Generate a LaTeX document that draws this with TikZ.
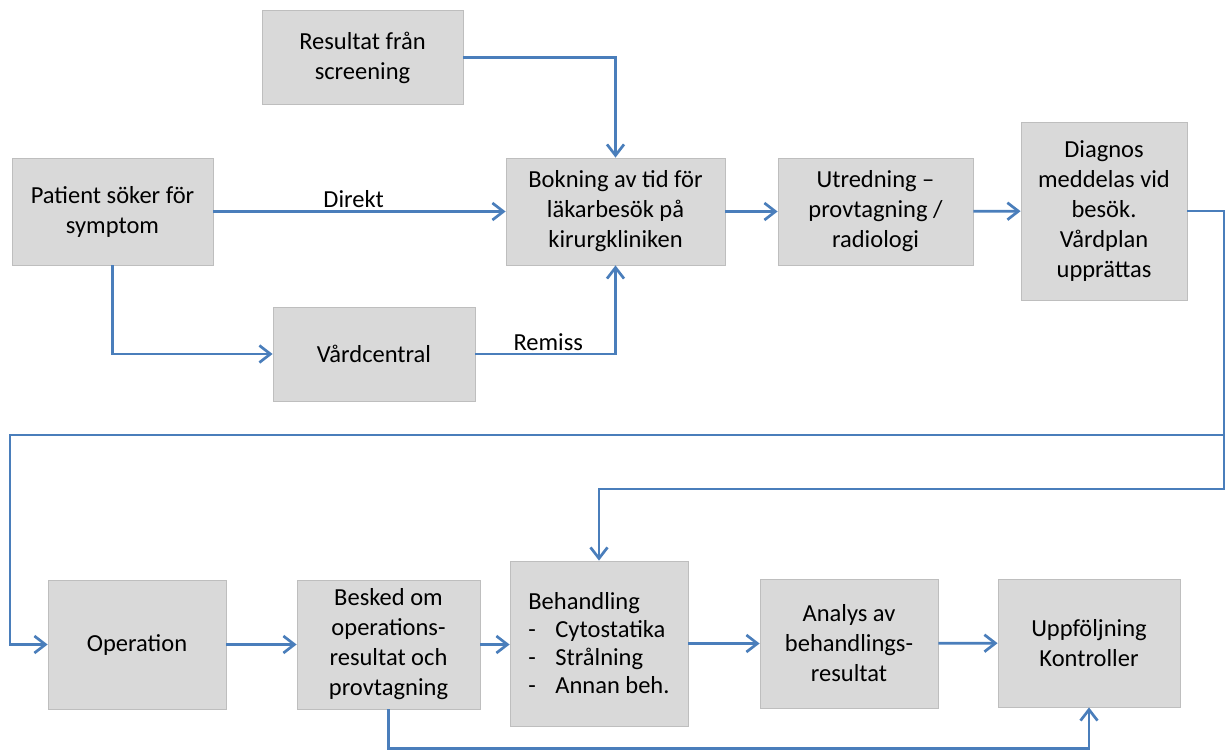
\documentclass[tikz,border=0pt]{standalone}
\usepackage{fontspec}
\setmainfont{Carlito}
\usetikzlibrary{arrows.meta}

\definecolor{flowblue}{RGB}{74,126,187}
\definecolor{boxfill}{RGB}{217,217,217}
\definecolor{boxline}{RGB}{190,190,190}

\begin{document}
\begin{tikzpicture}[
    x=1pt, y=-1pt,
    font=\fontsize{24.5}{30}\selectfont,
    box/.style={draw=boxline, line width=0.8pt, fill=boxfill, align=center, inner sep=3pt},
    arr/.style={-{Straight Barb[length=11pt, width=17pt, line width=2.7pt]}, line width=2.7pt, flowblue},
    lbl/.style={text=black, inner sep=2pt},
  ]
  \useasboundingbox (0,0) rectangle (1225,749);

  % ===== top row =====
  \node[box, minimum width=201pt, minimum height=94pt] (res) at (362.5,57.5) {Resultat från\\ screening};
  \node[box, minimum width=201pt, minimum height=107pt] (pat) at (112.5,211.5) {Patient söker för\\ symptom};
  \node[box, minimum width=219pt, minimum height=107pt] (bok) at (615.5,211.5) {Bokning av tid för\\ läkarbesök på\\ kirurgkliniken};
  \node[box, minimum width=195pt, minimum height=107pt] (utr) at (875.5,211.5) {Utredning --\\ provtagning /\\ radiologi};
  \node[box, minimum width=166pt, minimum height=178pt] (dia) at (1104,211) {Diagnos\\ meddelas vid\\ besök.\\ Vårdplan\\ upprättas};
  \node[box, minimum width=202pt, minimum height=94pt] (vc) at (374,354) {Vårdcentral};

  % ===== bottom row =====
  \node[box, minimum width=178pt, minimum height=129pt] (op) at (137,644.5) {Operation};
  \node[box, minimum width=183pt, minimum height=129pt] (bes) at (388.5,644.5) {Besked om\\ operations-\\ resultat och\\ provtagning};
  \node[box, minimum width=178pt, minimum height=165pt, align=left,
        font=\fontsize{24.5}{28}\selectfont] (beh) at (599,643.5)
    {Behandling\\ \makebox[27pt][l]{-}Cytostatika\\ \makebox[27pt][l]{-}Strålning\\ \makebox[27pt][l]{-}Annan beh.};
  \node[box, minimum width=178pt, minimum height=129pt] (ana) at (849,643.5) {Analys av\\ behandlings-\\ resultat};
  \node[box, minimum width=182pt, minimum height=128pt] (upp) at (1089,643) {Uppföljning\\ Kontroller};

  % ===== bends =====
  \coordinate (e1) at (1224,435);
  \coordinate (e2) at (1224,489);
  \coordinate (w1) at (10,435);

  % ===== arrows =====
  \draw[arr] (res.east) -| (bok.north);
  \draw[arr] (pat.east) -- (bok.west) node[lbl, pos=0.48, above]{Direkt};
  \draw[arr] (pat.south) |- (vc.west);
  \draw[arr] (vc.east) -| (bok.south) node[lbl, pos=0.26, above]{Remiss};
  \draw[arr] (bok) -- (utr);
  \draw[arr] (utr) -- (dia);
  \draw[arr] (dia.east) -| (e2) -| (beh.north);
  \draw[arr] (e1) -- (w1) |- (op.west);
  \draw[arr] (op) -- (bes);
  \draw[arr] (bes.east) -- (beh.west |- bes.east);
  \draw[arr] (beh.east |- ana.west) -- (ana.west);
  \draw[arr] (ana) -- (upp);
  \draw[arr] (bes.south) -- ++(0,39) -| (upp.south);

\end{tikzpicture}
\end{document}
